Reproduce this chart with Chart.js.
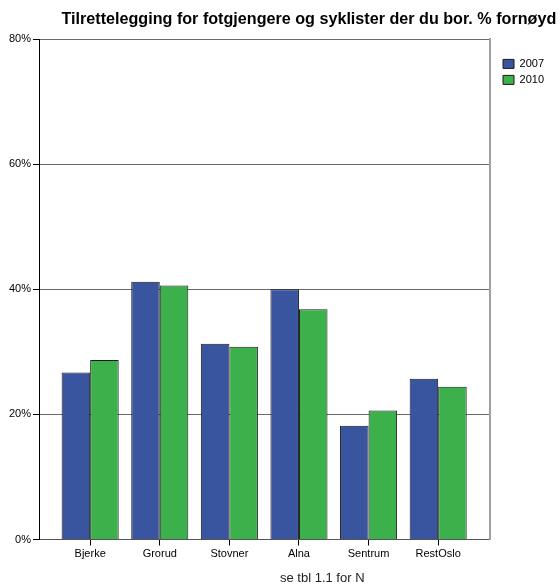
<!DOCTYPE html>
<html>
<head>
<meta charset="utf-8">
<script src="https://cdn.jsdelivr.net/npm/chart.js@4/dist/chart.umd.min.js"></script>
<style>
  html, body { margin: 0; padding: 0; background: #fff; }
  #wrap { width: 560px; height: 584px; }
</style>
</head>
<body>
<div id="wrap"><canvas id="chart" width="560" height="584"></canvas></div>
<script>
var categories = ['Bjerke', 'Grorud', 'Stovner', 'Alna', 'Sentrum', 'RestOslo'];
var values2007 = [26.7, 41.2, 31.3, 40.0, 18.2, 25.7];
var values2010 = [28.7, 40.6, 30.8, 36.8, 20.6, 24.4];
var yTicks = [0, 20, 40, 60, 80];
var chartTitle = 'Tilrettelegging for fotgjengere og syklister der du bor. % fornøyd';
var footNote = 'se tbl 1.1 for N';

function toPoints(vals) {
    return vals.map(function (v, i) { return { x: i, y: v }; });
}

// title and note sit off-centre in the original, so they are placed by hand
var textPlugin = {
    id: 'texts',
    afterDraw: function (chart) {
        var ctx = chart.ctx;
        ctx.save();
        ctx.fillStyle = '#000';
        ctx.textBaseline = 'alphabetic';
        ctx.textAlign = 'left';
        ctx.font = 'bold 16.15px "Liberation Sans", Arial, sans-serif';
        ctx.fillText(chartTitle, 61.5, 24);
        ctx.fillStyle = '#222';
        ctx.font = '13px "Liberation Sans", Arial, sans-serif';
        ctx.fillText(footNote, 280, 582);
        ctx.restore();
    }
};

var ctx = document.getElementById('chart').getContext('2d');
new Chart(ctx, {
    type: 'bar',
    data: {
        datasets: [
            {
                label: '2007',
                data: toPoints(values2007),
                backgroundColor: '#3a55a0',
                borderColor: '#1a1a1a',
                borderWidth: 1
            },
            {
                label: '2010',
                data: toPoints(values2010),
                backgroundColor: '#3bb04b',
                borderColor: '#1a1a1a',
                borderWidth: 1
            }
        ]
    },
    options: {
        responsive: false,
        animation: false,
        categoryPercentage: 0.82,
        barPercentage: 1,
        layout: { padding: { top: 39, left: 0, right: 6, bottom: 24 } },
        font: { family: '"Liberation Sans", Arial, sans-serif', size: 11 },
        scales: {
            x: {
                type: 'linear',
                bounds: 'data',
                offset: false,
                min: -0.735,
                max: 5.745,
                afterBuildTicks: function (scale) {
                    scale.ticks = categories.map(function (c, i) { return { value: i }; });
                },
                afterFit: function (scale) { scale.height = 20.5; },
                ticks: {
                    color: '#000',
                    padding: 2,
                    autoSkip: false,
                    maxRotation: 0,
                    font: { size: 11 },
                    callback: function (v) { return categories[v]; }
                },
                grid: { offset: false, drawOnChartArea: false, tickLength: 6, tickColor: '#000' },
                border: { color: '#555', width: 1 }
            },
            y: {
                min: 0,
                max: 80,
                afterBuildTicks: function (scale) {
                    scale.ticks = yTicks.map(function (v) { return { value: v }; });
                },
                afterFit: function (scale) { scale.width = 39; },
                ticks: {
                    color: '#000',
                    padding: 2,
                    font: { size: 11 },
                    callback: function (v) { return v + '%'; }
                },
                grid: { color: '#6a6a6a', tickLength: 6, tickColor: '#000' },
                border: { color: '#000', width: 1 }
            },
            yRight: {
                position: 'right',
                min: 0,
                max: 80,
                afterFit: function (scale) { scale.width = 8; },
                ticks: { display: false },
                grid: { drawOnChartArea: false, drawTicks: false },
                border: { color: '#a0a0a0', width: 2 }
            }
        },
        plugins: {
            title: { display: false },
            tooltip: { enabled: false },
            legend: {
                position: 'right',
                align: 'start',
                title: { display: true, text: '', padding: 0, font: { size: 12 } },
                labels: {
                    boxWidth: 11,
                    boxHeight: 9,
                    padding: 5,
                    color: '#000',
                    font: { size: 11 }
                }
            }
        }
    },
    plugins: [textPlugin]
});
</script>
</body>
</html>
